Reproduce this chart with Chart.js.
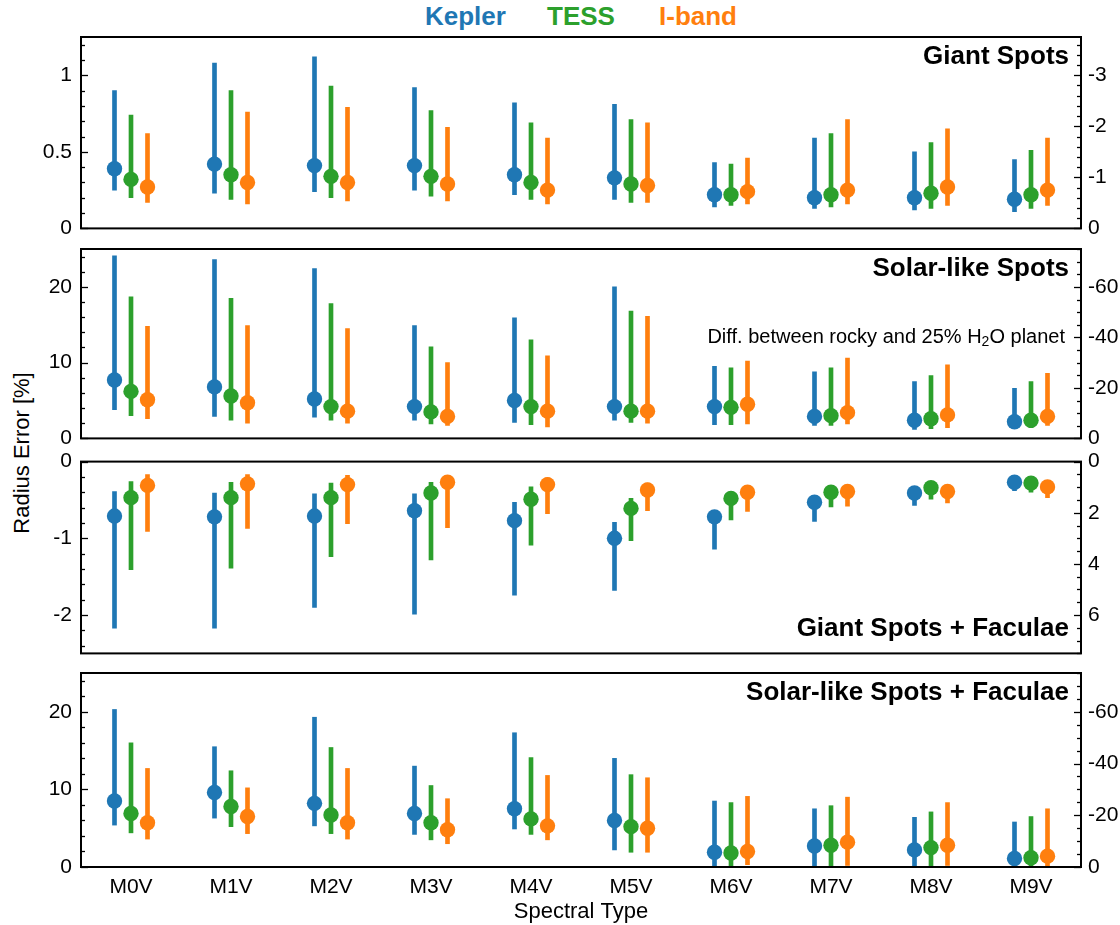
<!DOCTYPE html>
<html>
<head>
<meta charset="utf-8">
<title>Radius error by spectral type</title>
<script src="https://cdn.jsdelivr.net/npm/chart.js@4.4.1/dist/chart.umd.min.js"></script>
<style>
  body { margin: 0; background: #fff; }
  #figure { position: relative; width: 1120px; height: 925px; font-family: "Liberation Sans", Arial, sans-serif; }
  #figure canvas { position: absolute; left: 0; }
  .band { position: absolute; top: 1px; font-weight: bold; font-size: 26px; line-height: 30px; }
  #ytitle { position: absolute; left: -128px; top: 440px; width: 300px; line-height: 26px; text-align: center; font-size: 22px; transform: rotate(-90deg); }
</style>
</head>
<body>
<div id="figure">
  <span class="band" style="left:425px;color:#1f77b4">Kepler</span>
  <span class="band" style="left:547px;color:#2ca02c">TESS</span>
  <span class="band" style="left:659px;color:#ff7f0e">I-band</span>
  <div id="ytitle">Radius Error [%]</div>
  <canvas id="giant" width="1120" height="250" style="top:0px"></canvas>
  <canvas id="solar" width="1120" height="235" style="top:225px"></canvas>
  <canvas id="giantFac" width="1120" height="235" style="top:440px"></canvas>
  <canvas id="solarFac" width="1120" height="275" style="top:650px"></canvas>
</div>
<script>
const spectralTypes = ['M0V', 'M1V', 'M2V', 'M3V', 'M4V', 'M5V', 'M6V', 'M7V', 'M8V', 'M9V'];

// each row: [value, lower end, upper end] for one spectral type
const giantKepler = [[0.39,0.25,0.90],[0.42,0.23,1.08],[0.41,0.24,1.12],[0.41,0.25,0.92],[0.35,0.22,0.82],[0.33,0.19,0.81],[0.22,0.14,0.43],[0.20,0.13,0.59],[0.20,0.12,0.50],[0.19,0.11,0.45]];
const giantTess   = [[0.32,0.20,0.74],[0.35,0.19,0.90],[0.34,0.20,0.93],[0.34,0.21,0.77],[0.30,0.19,0.69],[0.29,0.17,0.71],[0.22,0.15,0.42],[0.22,0.14,0.62],[0.23,0.13,0.56],[0.22,0.13,0.51]];
const giantIband  = [[0.27,0.17,0.62],[0.30,0.16,0.76],[0.30,0.18,0.79],[0.29,0.18,0.66],[0.25,0.16,0.59],[0.28,0.17,0.69],[0.24,0.16,0.46],[0.25,0.16,0.71],[0.27,0.15,0.65],[0.25,0.15,0.59]];

const solarKepler = [[7.7,3.8,24.1],[6.8,2.9,23.6],[5.2,2.8,22.4],[4.2,2.4,14.9],[5.0,2.1,15.9],[4.2,2.4,20.0],[4.2,1.8,9.5],[2.9,1.7,8.8],[2.4,1.2,7.5],[2.2,1.4,6.6]];
const solarTess   = [[6.2,3.0,18.7],[5.6,2.4,18.5],[4.2,2.4,17.8],[3.5,1.9,12.1],[4.2,1.8,13.0],[3.6,2.1,16.8],[4.1,1.8,9.3],[3.0,1.7,9.3],[2.6,1.3,8.3],[2.4,1.4,7.5]];
const solarIband  = [[5.1,2.6,14.8],[4.7,2.0,14.9],[3.6,2.0,14.5],[2.9,1.7,10.0],[3.6,1.5,10.9],[3.6,2.0,16.1],[4.5,1.9,10.2],[3.4,1.9,10.6],[3.1,1.4,9.7],[2.9,1.7,8.6]];

const giantFacKepler = [[-0.71,-2.17,-0.39],[-0.72,-2.17,-0.41],[-0.71,-1.90,-0.42],[-0.64,-1.99,-0.42],[-0.77,-1.74,-0.53],[-1.00,-1.68,-0.79],[-0.72,-1.14,-0.64],[-0.53,-0.78,-0.45],[-0.41,-0.57,-0.34],[-0.27,-0.38,-0.19]];
const giantFacTess   = [[-0.47,-1.41,-0.26],[-0.47,-1.39,-0.27],[-0.47,-1.24,-0.28],[-0.41,-1.28,-0.27],[-0.49,-1.09,-0.33],[-0.61,-1.03,-0.48],[-0.48,-0.76,-0.41],[-0.40,-0.59,-0.32],[-0.34,-0.49,-0.28],[-0.28,-0.40,-0.22]];
const giantFacIband  = [[-0.31,-0.91,-0.17],[-0.29,-0.87,-0.17],[-0.30,-0.81,-0.18],[-0.27,-0.86,-0.18],[-0.30,-0.68,-0.21],[-0.37,-0.64,-0.28],[-0.40,-0.65,-0.34],[-0.39,-0.58,-0.32],[-0.39,-0.54,-0.32],[-0.33,-0.47,-0.27]];

const solarFacKepler = [[8.5,5.4,20.3],[9.6,6.3,15.5],[8.2,5.3,19.3],[6.9,4.2,13.0],[7.5,4.9,17.3],[6.0,2.2,14.0],[1.9,0.1,8.5],[2.7,0.1,7.5],[2.2,0.1,6.4],[1.1,0.0,5.8]];
const solarFacTess   = [[6.9,4.4,16.0],[7.8,5.2,12.4],[6.7,4.3,15.4],[5.7,3.5,10.5],[6.2,4.2,14.1],[5.2,1.9,11.9],[1.8,0.1,8.3],[2.8,0.1,7.9],[2.5,0.1,7.1],[1.2,0.0,6.5]];
const solarFacIband  = [[5.7,3.6,12.7],[6.5,4.3,10.2],[5.7,3.6,12.7],[4.8,3.0,8.8],[5.3,3.5,11.8],[5.0,1.9,11.5],[2.0,0.3,9.1],[3.2,0.2,9.0],[2.8,0.2,8.3],[1.4,0.1,7.5]];

const keplerColor = '#1f77b4';
const tessColor = '#2ca02c';
const ibandColor = '#ff7f0e';
const family = '"Liberation Sans", Arial, sans-serif';
const tickFont = {family: family, size: 21};

// frame around the plot area plus matplotlib-style inward ticks (long = labelled)
const frameAndTicks = {
  id: 'frameAndTicks',
  afterDraw(chart) {
    const {ctx, chartArea: a} = chart;
    ctx.save();
    ctx.strokeStyle = '#000';
    ctx.lineWidth = 1.3;
    [['y', a.left, 1], ['y2', a.right, -1]].forEach(([id, x0, dir]) => {
      const s = chart.scales[id];
      s.ticks.forEach(t => {
        const y = Math.round(s.getPixelForValue(t.value)) + 0.5;
        ctx.beginPath();
        ctx.moveTo(x0, y);
        ctx.lineTo(x0 + dir * (t.label ? 7 : 4), y);
        ctx.stroke();
      });
    });
    ctx.lineWidth = 2;
    ctx.strokeRect(a.left, a.top, a.right - a.left, a.bottom - a.top);
    ctx.restore();
  }
};

// bold panel name, and the rocky/water note on the solar-like panel
const panelText = {
  id: 'panelText',
  afterDraw(chart, args, o) {
    const {ctx, chartArea: a} = chart;
    ctx.save();
    ctx.fillStyle = '#000';
    ctx.textAlign = 'right';
    ctx.textBaseline = 'alphabetic';
    ctx.font = 'bold 26px ' + family;
    ctx.fillText(o.title, a.right - 12, o.bottom ? a.bottom - 17 : a.top + 27);
    if (o.note) {
      const parts = [['Diff. between rocky and 25% H', 20, 0], ['2', 14, 5], ['O planet', 20, 0]];
      let x = a.right - 16;
      const y = chart.scales.y2.getPixelForValue(o.note);
      ctx.textBaseline = 'middle';
      for (let i = parts.length - 1; i >= 0; i--) {
        const [txt, size, dy] = parts[i];
        ctx.font = size + 'px ' + family;
        ctx.fillText(txt, x, y + dy);
        x -= ctx.measureText(txt).width;
      }
    }
    ctx.restore();
  }
};

function tickList(min, max, step) {
  const out = [];
  for (let k = Math.ceil(min / step - 1e-9); k * step <= max + 1e-9; k++) {
    out.push({value: Math.round(k * step * 1000) / 1000});
  }
  return out;
}

function isMajor(v, major) {
  return Math.abs(v / major - Math.round(v / major)) < 1e-6;
}

function axisOpts(ax, side) {
  return {
    type: 'linear',
    position: side,
    min: ax.min,
    max: ax.max,
    reverse: !!ax.reverse,
    offset: false,
    grid: {display: false, drawTicks: false},
    border: {display: false},
    afterBuildTicks: s => { s.ticks = tickList(ax.min, ax.max, ax.minor); },
    afterFit: s => { s.width = side === 'left' ? 81 : 39; },
    ticks: {
      autoSkip: false,
      padding: side === 'left' ? 9 : 7,
      color: '#000',
      font: tickFont,
      callback: v => isMajor(v, ax.major) ? String(v) : ''
    }
  };
}

// one band = a thin floating bar (the range) and a dot (the value)
function errorBars(rows, color, shift) {
  return [
    {
      type: 'bar',
      data: rows.map((r, i) => ({x: i + shift, y: [r[1], r[2]]})),
      backgroundColor: color,
      borderWidth: 0,
      barThickness: 4,
      grouped: false,
      order: 2
    },
    {
      type: 'scatter',
      data: rows.map((r, i) => ({x: i + shift, y: r[0]})),
      backgroundColor: color,
      pointRadius: 7.7,
      pointBorderWidth: 0,
      order: 1
    }
  ];
}

function makePanel(id, p) {
  const datasets = [
    ...errorBars(p.kepler, keplerColor, -0.165),
    ...errorBars(p.tess, tessColor, 0),
    ...errorBars(p.iband, ibandColor, 0.165)
  ];
  return new Chart(document.getElementById(id), {
    type: 'scatter',
    data: {datasets: datasets},
    options: {
      responsive: false,
      animation: false,
      events: [],
      layout: {padding: p.padding},
      plugins: {
        legend: {display: false},
        tooltip: {enabled: false},
        panelText: {title: p.title, bottom: !!p.titleBottom, note: p.note}
      },
      scales: {
        x: {
          type: 'linear',
          min: -0.5,
          max: 9.5,
          offset: false,
          display: !!p.showX,
          grid: {display: false, drawTicks: false, offset: false},
          border: {display: false},
          afterBuildTicks: s => { s.ticks = spectralTypes.map((_, i) => ({value: i})); },
          afterFit: s => { if (p.showX) s.height = 58; },
          ticks: {
            autoSkip: false,
            maxRotation: 0,
            padding: 8,
            color: '#000',
            font: tickFont,
            callback: v => spectralTypes[v] ?? ''
          },
          title: {
            display: !!p.showX,
            text: 'Spectral Type',
            color: '#000',
            font: {family: family, size: 22},
            padding: {top: 0, bottom: 0}
          }
        },
        y: axisOpts(p.y, 'left'),
        y2: axisOpts(p.y2, 'right')
      }
    },
    plugins: [frameAndTicks, panelText]
  });
}

makePanel('giant', {
  kepler: giantKepler, tess: giantTess, iband: giantIband,
  title: 'Giant Spots',
  padding: {top: 37, bottom: 20, left: 0, right: 0},
  y: {min: 0, max: 1.25, minor: 0.1, major: 0.5},
  y2: {min: -3.75, max: 0, minor: 0.2, major: 1, reverse: true}
});

makePanel('solar', {
  kepler: solarKepler, tess: solarTess, iband: solarIband,
  title: 'Solar-like Spots',
  note: -40,
  padding: {top: 24, bottom: 18, left: 0, right: 0},
  y: {min: 0, max: 25, minor: 2, major: 10},
  y2: {min: -75, max: 0, minor: 5, major: 20, reverse: true}
});

makePanel('giantFac', {
  kepler: giantFacKepler, tess: giantFacTess, iband: giantFacIband,
  title: 'Giant Spots + Faculae',
  titleBottom: true,
  padding: {top: 20, bottom: 21, left: 0, right: 0},
  y: {min: -2.5, max: 0, minor: 0.2, major: 1},
  y2: {min: 0, max: 7.5, minor: 0.5, major: 2, reverse: true}
});

makePanel('solarFac', {
  kepler: solarFacKepler, tess: solarFacTess, iband: solarFacIband,
  title: 'Solar-like Spots + Faculae',
  showX: true,
  padding: {top: 23, bottom: 0, left: 0, right: 0},
  y: {min: 0, max: 25, minor: 2, major: 10},
  y2: {min: -75, max: 0, minor: 5, major: 20, reverse: true}
});
</script>
</body>
</html>
